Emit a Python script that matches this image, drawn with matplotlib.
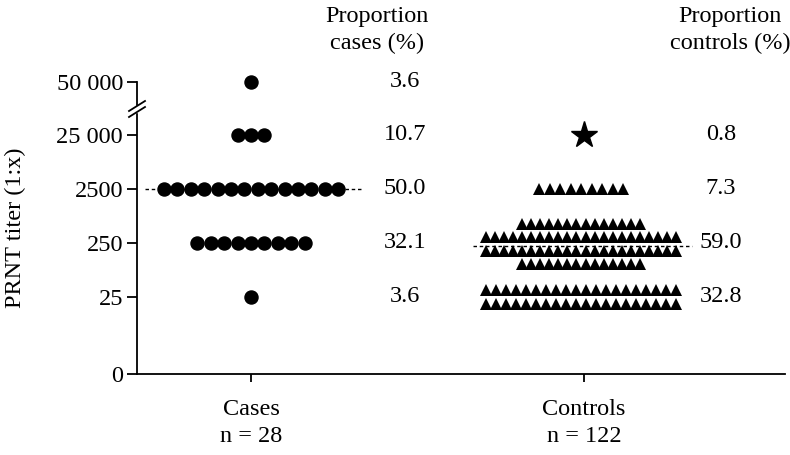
import numpy as np
import matplotlib.pyplot as plt
from matplotlib.patches import Rectangle

plt.rcParams['font.family'] = ['Liberation Serif', 'DejaVu Serif']

# data
titer_levels = [50000, 25000, 2500, 250, 25]
tick_values = [0, 25, 250, 2500, 25000, 50000]
tick_labels = ['0', '25', '250', '2500', '25 000', '50 000']
cases_counts = [1, 3, 14, 9, 1]
controls_counts = [0, 1, 9, 72, 40]
cases_pct = ['3.6', '10.7', '50.0', '32.1', '3.6']
controls_pct = ['', '0.8', '7.3', '59.0', '32.8']
cases_median = 2500
controls_median = 250
group_labels = ['Cases\nn = 28', 'Controls\nn = 122']

# rows used to pile up the control triangles
controls_rows = {250: [14, 22, 22, 14], 25: [20, 20]}


def ypos(v):
    # broken log axis, in pixel units (1 decade = 54 px)
    if v == 0:
        return 0.0
    if v == 50000:
        return 292.0
    return 77 + 54 * np.log10(v / 25)


fig = plt.figure(figsize=(7.9, 4.55), dpi=100)
ax = fig.add_axes([137 / 790, 81 / 455, 648 / 790, 292 / 455])
ax.set_xlim(0, 648)
ax.set_ylim(0, 292)

x_cases, x_controls = 114, 447

# cases: circles
for lvl, n in zip(titer_levels, cases_counts):
    xs = x_cases + (np.arange(n) - (n - 1) / 2) * 13.4
    ax.plot(xs, [ypos(lvl)] * n, 'o', color='black', ms=9.4, clip_on=False)

# controls: star + triangles
for lvl, n in zip(titer_levels, controls_counts):
    if n == 0:
        continue
    if lvl == 25000:
        ax.plot([x_controls], [ypos(lvl)], '*', color='black', ms=20, clip_on=False)
        continue
    rows = controls_rows.get(lvl, [n])
    spacing = {2500: 10.5, 250: 9.05, 25: 10.0}[lvl]
    offs = (np.arange(len(rows)) - (len(rows) - 1) / 2) * -13.5
    base = ypos(lvl) + (-1 if lvl == 250 else 0)
    for r, off in zip(rows, offs):
        xs = x_controls - 3 + (np.arange(r) - (r - 1) / 2) * spacing
        ax.plot(xs, [base + off] * r, '^', color='black', ms=9, mew=0, clip_on=False)

# medians
ax.plot([8, 225], [ypos(cases_median)] * 2, ls=(0, (2.5, 2)), color='black', lw=1)
ax.plot([336, 555], [ypos(controls_median) - 3] * 2, ls=(0, (2.5, 2)), color='black', lw=1)

# proportion columns
fs = 17.5
for lvl, cp, kp in zip(titer_levels, cases_pct, controls_pct):
    y = ypos(lvl)
    ax.text(268, y, cp, ha='center', va='center', fontsize=fs, clip_on=False)
    ax.text(584, y, kp, ha='center', va='center', fontsize=fs, clip_on=False)
ax.text(240, 344, 'Proportion\ncases (%)', ha='center', va='center', fontsize=fs,
        linespacing=1.4)
ax.text(593, 344, 'Proportion\ncontrols (%)', ha='center', va='center', fontsize=fs,
        linespacing=1.4)

# axes styling
for s in ['top', 'right']:
    ax.spines[s].set_visible(False)
ax.spines['left'].set_linewidth(1.3)
ax.spines['bottom'].set_linewidth(1.3)
ax.set_yticks([ypos(v) for v in tick_values])
ax.set_yticklabels(tick_labels, fontsize=fs)
ax.set_xticks([x_cases, x_controls])
ax.set_xticklabels(group_labels, fontsize=fs, linespacing=1.4)
ax.tick_params(axis='y', length=7, width=1.3, pad=3)
ax.tick_params(axis='x', length=6, width=1.3, pad=12)
ax.text(-122, 146, 'PRNT titer (1:x)', rotation=90, ha='center', va='center',
        fontsize=fs)

# axis break
ax.add_patch(Rectangle((-4, 262), 8, 6, color='white', clip_on=False, zorder=5))
for dy in (-3, 3):
    ax.plot([-8, 8], [265 + dy - 5, 265 + dy + 5], color='black', lw=1.3,
            clip_on=False, zorder=6)

fig.savefig('out.png', dpi=100)
